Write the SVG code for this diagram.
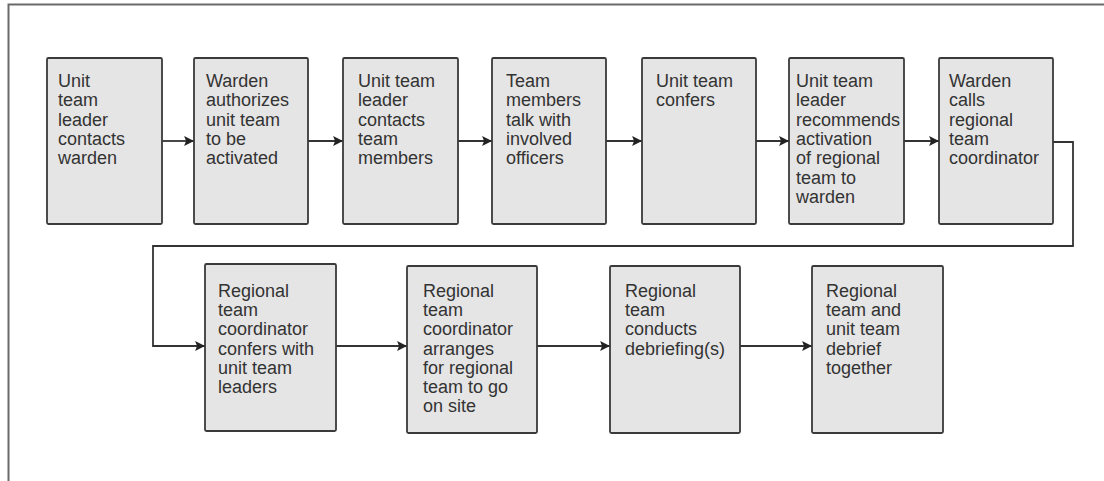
<svg xmlns="http://www.w3.org/2000/svg" width="1104" height="481" viewBox="0 0 1104 481">
<style>
.box{fill:#e5e5e5;stroke:#3a3a3a;stroke-width:1.8}
.t{font-family:"Liberation Sans",Arial,sans-serif;font-size:18px;fill:#333}
.c{fill:none;stroke:#333;stroke-width:1.8}
.frame{fill:none;stroke:#6a6a6a;stroke-width:2}
</style>
<defs>
<marker id="ah" viewBox="0 0 10 10" refX="10" refY="5" markerWidth="5.5" markerHeight="5.5" orient="auto" markerUnits="strokeWidth">
<path d="M0,0 L10,5 L0,10 L2,5 Z" fill="#222"/>
</marker>
</defs>
<rect width="1104" height="481" fill="#fff"/>
<path class="frame" d="M1104,4.5 H8.5 V481"/>
<g id="connectors">
<path class="c" d="M162,141 H194" marker-end="url(#ah)"/>
<path class="c" d="M308,141 H343" marker-end="url(#ah)"/>
<path class="c" d="M458,141 H492" marker-end="url(#ah)"/>
<path class="c" d="M606,141 H642" marker-end="url(#ah)"/>
<path class="c" d="M756,141 H789" marker-end="url(#ah)"/>
<path class="c" d="M904,141 H939" marker-end="url(#ah)"/>
<path class="c" d="M1053,142 H1073 V246 H153 V346 H205" marker-end="url(#ah)"/>
<path class="c" d="M336,346 H407" marker-end="url(#ah)"/>
<path class="c" d="M537,346 H610" marker-end="url(#ah)"/>
<path class="c" d="M740,346 H812" marker-end="url(#ah)"/>
</g>
<g id="n1"><rect class="box" x="47" y="58" width="115" height="166" rx="1.5"/>
<text class="t" x="58" y="87"><tspan x="58">Unit</tspan><tspan x="58" dy="19.3">team</tspan><tspan x="58" dy="19.3">leader</tspan><tspan x="58" dy="19.3">contacts</tspan><tspan x="58" dy="19.3">warden</tspan></text></g>
<g id="n2"><rect class="box" x="194" y="58" width="114" height="166" rx="1.5"/>
<text class="t" x="206" y="87"><tspan x="206">Warden</tspan><tspan x="206" dy="19.3">authorizes</tspan><tspan x="206" dy="19.3">unit team</tspan><tspan x="206" dy="19.3">to be</tspan><tspan x="206" dy="19.3">activated</tspan></text></g>
<g id="n3"><rect class="box" x="343" y="58" width="115" height="166" rx="1.5"/>
<text class="t" x="358" y="87"><tspan x="358">Unit team</tspan><tspan x="358" dy="19.3">leader</tspan><tspan x="358" dy="19.3">contacts</tspan><tspan x="358" dy="19.3">team</tspan><tspan x="358" dy="19.3">members</tspan></text></g>
<g id="n4"><rect class="box" x="492" y="58" width="114" height="166" rx="1.5"/>
<text class="t" x="506" y="87"><tspan x="506">Team</tspan><tspan x="506" dy="19.3">members</tspan><tspan x="506" dy="19.3">talk with</tspan><tspan x="506" dy="19.3">involved</tspan><tspan x="506" dy="19.3">officers</tspan></text></g>
<g id="n5"><rect class="box" x="642" y="58" width="114" height="166" rx="1.5"/>
<text class="t" x="656" y="87"><tspan x="656">Unit team</tspan><tspan x="656" dy="19.3">confers</tspan></text></g>
<g id="n6"><rect class="box" x="789" y="58" width="115" height="166" rx="1.5"/>
<text class="t" x="796" y="87"><tspan x="796">Unit team</tspan><tspan x="796" dy="19.3">leader</tspan><tspan x="796" dy="19.3">recommends</tspan><tspan x="796" dy="19.3">activation</tspan><tspan x="796" dy="19.3">of regional</tspan><tspan x="796" dy="19.3">team to</tspan><tspan x="796" dy="19.3">warden</tspan></text></g>
<g id="n7"><rect class="box" x="939" y="58" width="114" height="166" rx="1.5"/>
<text class="t" x="949" y="87"><tspan x="949">Warden</tspan><tspan x="949" dy="19.3">calls</tspan><tspan x="949" dy="19.3">regional</tspan><tspan x="949" dy="19.3">team</tspan><tspan x="949" dy="19.3">coordinator</tspan></text></g>
<g id="n8"><rect class="box" x="205" y="264" width="131" height="167" rx="1.5"/>
<text class="t" x="218" y="297"><tspan x="218">Regional</tspan><tspan x="218" dy="19.2">team</tspan><tspan x="218" dy="19.2">coordinator</tspan><tspan x="218" dy="19.2">confers with</tspan><tspan x="218" dy="19.2">unit team</tspan><tspan x="218" dy="19.2">leaders</tspan></text></g>
<g id="n9"><rect class="box" x="407" y="266" width="130" height="167" rx="1.5"/>
<text class="t" x="423" y="297"><tspan x="423">Regional</tspan><tspan x="423" dy="19.2">team</tspan><tspan x="423" dy="19.2">coordinator</tspan><tspan x="423" dy="19.2">arranges</tspan><tspan x="423" dy="19.2">for regional</tspan><tspan x="423" dy="19.2">team to go</tspan><tspan x="423" dy="19.2">on site</tspan></text></g>
<g id="n10"><rect class="box" x="610" y="266" width="130" height="167" rx="1.5"/>
<text class="t" x="625" y="297"><tspan x="625">Regional</tspan><tspan x="625" dy="19.2">team</tspan><tspan x="625" dy="19.2">conducts</tspan><tspan x="625" dy="19.2">debriefing(s)</tspan></text></g>
<g id="n11"><rect class="box" x="812" y="266" width="131" height="167" rx="1.5"/>
<text class="t" x="826" y="297"><tspan x="826">Regional</tspan><tspan x="826" dy="19.2">team and</tspan><tspan x="826" dy="19.2">unit team</tspan><tspan x="826" dy="19.2">debrief</tspan><tspan x="826" dy="19.2">together</tspan></text></g>
</svg>
